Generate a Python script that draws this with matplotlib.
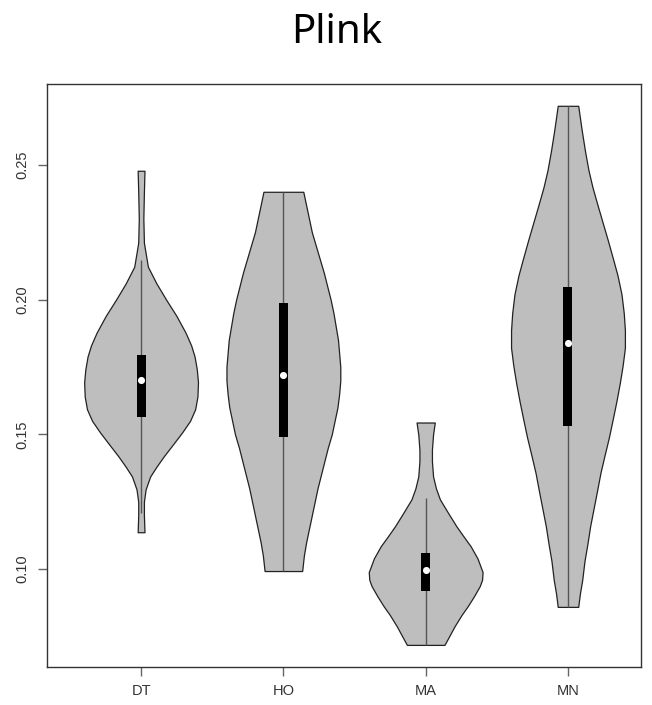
import numpy as np
import matplotlib

matplotlib.use('Agg')
import matplotlib.pyplot as plt

# groups and their x positions
groups = ['DT', 'HO', 'MA', 'MN']

# violin outlines: value levels and relative half-widths
dt_y = [0.2478, 0.2400, 0.2300, 0.2211, 0.2122, 0.2060, 0.2000, 0.1940, 0.1878, 0.1830,
        0.1789, 0.1740, 0.1693, 0.1640, 0.1593, 0.1550, 0.1507, 0.1460, 0.1419, 0.1380,
        0.1344, 0.1296, 0.1250, 0.1200, 0.1137]
dt_w = [0.06, 0.05, 0.04, 0.05, 0.12, 0.27, 0.44, 0.62, 0.78, 0.88,
        0.94, 0.98, 1.00, 0.99, 0.95, 0.86, 0.72, 0.55, 0.40, 0.27,
        0.16, 0.08, 0.05, 0.05, 0.06]

ho_y = [0.2400, 0.2350, 0.2300, 0.2250, 0.2200, 0.2150, 0.2100, 0.2050, 0.2000, 0.1950,
        0.1900, 0.1850, 0.1800, 0.1750, 0.1700, 0.1650, 0.1600, 0.1550, 0.1500, 0.1450,
        0.1400, 0.1350, 0.1300, 0.1250, 0.1200, 0.1150, 0.1100, 0.1050, 0.0993]
ho_w = [0.35, 0.40, 0.45, 0.50, 0.57, 0.64, 0.71, 0.77, 0.83, 0.88,
        0.92, 0.96, 0.98, 1.00, 1.00, 0.98, 0.95, 0.90, 0.85, 0.78,
        0.72, 0.66, 0.60, 0.55, 0.50, 0.45, 0.40, 0.36, 0.33]

ma_y = [0.1544, 0.1500, 0.1444, 0.1400, 0.1344, 0.1300, 0.1259, 0.1210, 0.1159, 0.1120,
        0.1085, 0.1040, 0.0989, 0.0960, 0.0937, 0.0900, 0.0863, 0.0830, 0.0789, 0.0750,
        0.0719]
ma_w = [0.16, 0.13, 0.11, 0.11, 0.13, 0.18, 0.25, 0.39, 0.54, 0.67,
        0.79, 0.91, 1.00, 0.99, 0.95, 0.85, 0.74, 0.63, 0.51, 0.41,
        0.33]

mn_y = [0.2719, 0.2630, 0.2550, 0.2480, 0.2417, 0.2350, 0.2285, 0.2220, 0.2152, 0.2090,
        0.2020, 0.1950, 0.1887, 0.1821, 0.1755, 0.1690, 0.1622, 0.1550, 0.1490, 0.1420,
        0.1357, 0.1290, 0.1225, 0.1160, 0.1092, 0.1030, 0.0960, 0.0910, 0.0860]
mn_w = [0.18, 0.24, 0.30, 0.36, 0.43, 0.52, 0.61, 0.70, 0.79, 0.87,
        0.94, 0.98, 1.00, 1.00, 0.96, 0.91, 0.85, 0.78, 0.72, 0.64,
        0.57, 0.51, 0.45, 0.39, 0.34, 0.29, 0.25, 0.21, 0.18]

# box statistics: lower whisker, q1, median, q3, upper whisker
whisk_lo = [0.1210, 0.0993, 0.0719, 0.0860]
q1 = [0.1563, 0.1489, 0.0919, 0.1530]
medians = [0.1700, 0.1722, 0.0996, 0.1838]
q3 = [0.1796, 0.1989, 0.1059, 0.2048]
whisk_hi = [0.2146, 0.2400, 0.1263, 0.2719]

outlines = [(dt_y, dt_w), (ho_y, ho_w), (ma_y, ma_w), (mn_y, mn_w)]

fig = plt.figure(figsize=(6.52, 7.05), dpi=100)
ax = fig.add_axes([0.0721, 0.0539, 0.911, 0.827])

for i, (ys, ws) in enumerate(outlines):
  pos = i + 1
  ys = np.array(ys)
  half = np.array(ws) * 0.4
  ax.fill_betweenx(ys, pos - half, pos + half, facecolor='#bebebe',
                   edgecolor='#222222', linewidth=0.9, zorder=2)
  ax.vlines(pos, whisk_lo[i], whisk_hi[i], color='#555555', linewidth=1.0, zorder=3)
  ax.bar(pos, q3[i] - q1[i], bottom=q1[i], width=0.063, color='black', zorder=4)
  ax.scatter([pos], [medians[i]], s=26, color='white', zorder=5, linewidths=0)

ax.set_xlim(0.339, 4.513)
ax.set_ylim(0.0637, 0.2800)
ax.set_xticks(range(1, len(groups) + 1))
ax.set_xticklabels(groups)
ax.set_yticks([0.10, 0.15, 0.20, 0.25])
ax.set_yticklabels(['0.10', '0.15', '0.20', '0.25'], rotation=90, va='center')

for spine in ax.spines.values():
  spine.set_color('#333333')
  spine.set_linewidth(1.0)
ax.tick_params(axis='both', length=6.5, width=1.0, color='#666666', labelcolor='#333333',
               labelsize=10.5, pad=6)
for lab in ax.get_xticklabels() + ax.get_yticklabels():
  lab.set_family('Liberation Sans')

fig.text(0.516, 0.953, 'Plink', ha='center', va='center', fontsize=29,
         family='Noto Sans', color='black')

plt.savefig('out.png', dpi=100)
